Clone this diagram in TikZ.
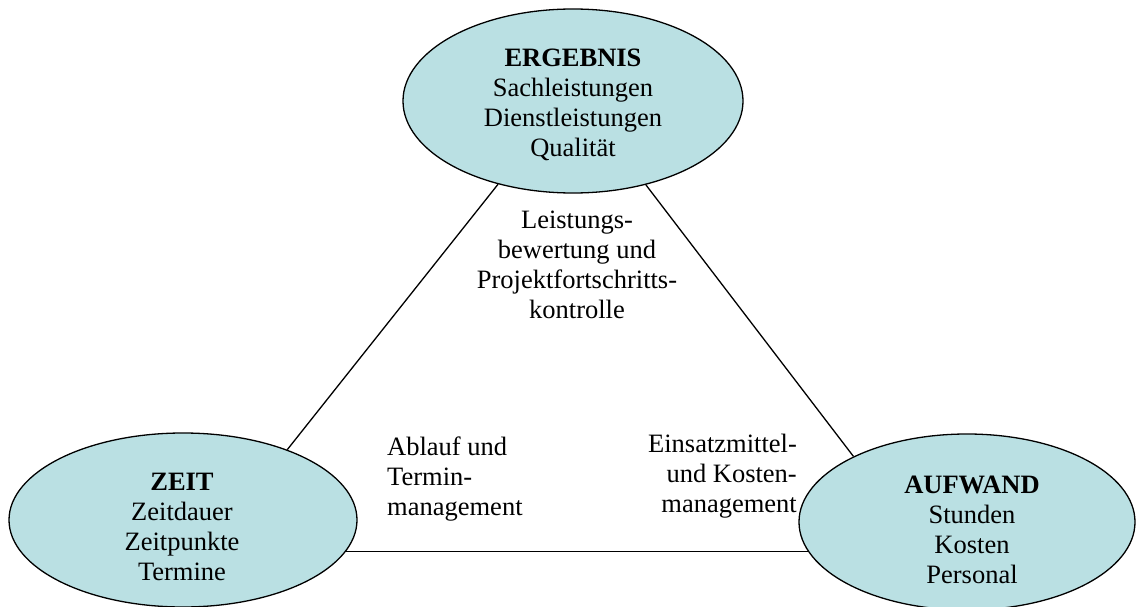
\documentclass[tikz,border=0pt]{standalone}
\usepackage{fontspec}
\setmainfont{Liberation Serif}
\usetikzlibrary{shapes.geometric,backgrounds}
\definecolor{bubble}{RGB}{186,224,227}
\tikzset{
  bubble/.style={ellipse, draw=black, line width=1.3pt, fill=bubble, inner sep=0pt},
  txt/.style={inner sep=0pt, font=\fontsize{26.5}{30}\selectfont},
  link/.style={line width=1.3pt},
}
\begin{document}
\begin{tikzpicture}[x=1pt, y=-1pt]
  \useasboundingbox (0,0) rectangle (1136,607);

  % the three corner ellipses
  \node[bubble, minimum width=340pt, minimum height=184pt] (res) at (573,101) {};
  \node[bubble, minimum width=348pt, minimum height=174pt] (time) at (183,520) {};
  \node[bubble, minimum width=336pt, minimum height=176pt] (cost) at (967,522) {};

  % triangle sides
  \draw[link] (res.228) -- (time.34);
  \draw[link] (res.311) -- (cost.150);
  \coordinate (bl) at (time.-11.2);
  \begin{scope}[on background layer]
    \draw[link] (bl) -- (bl -| cost.center);
  \end{scope}

  % ellipse texts
  \node[txt, align=center] (resT) at (573,105)
    {\textbf{ERGEBNIS}\\Sachleistungen\\Dienstleistungen\\Qualität};
  \node[txt, align=center] (timeT) at (182,527)
    {\textbf{ZEIT}\\Zeitdauer\\Zeitpunkte\\Termine};
  \node[txt, align=center] (costT) at (972,529.5)
    {\textbf{AUFWAND}\\Stunden\\Kosten\\Personal};

  % side labels
  \node[txt, align=center] (resL) at (577,264.5)
    {Leistungs-\\bewertung und\\Projektfortschritts-\\kontrolle};
  \node[txt, align=left, anchor=west] (timeL) at (387,479)
    {Ablauf und\\Termin-\\management};
  \node[txt, align=right, anchor=east] (costL) at (797,476)
    {Einsatzmittel-\\und Kosten-\\management};
\end{tikzpicture}
\end{document}
